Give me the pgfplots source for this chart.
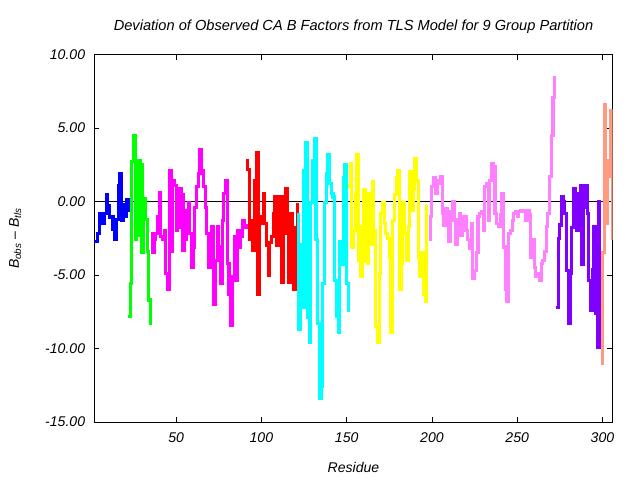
\documentclass[border=0pt]{standalone}
\usepackage{fontspec}
\setmainfont{Liberation Sans}
\usepackage{pgfplots}
\pgfplotsset{compat=1.18}
\definecolor{gBlue}{HTML}{0000FF}
\definecolor{gGreen}{HTML}{00FF00}
\definecolor{gMagenta}{HTML}{FF00FF}
\definecolor{gRed}{HTML}{FF0000}
\definecolor{gCyan}{HTML}{00FFFF}
\definecolor{gYellow}{HTML}{FFFF00}
\definecolor{gPink}{HTML}{FF80FF}
\definecolor{gPurple}{HTML}{8000FF}
\definecolor{gSalmon}{HTML}{FF9A80}
\begin{document}
\begin{tikzpicture}
\useasboundingbox (-2.357cm,-1.45cm) rectangle (13.643cm,10.55cm);
\begin{axis}[
    at={(0,0)}, anchor=south west,
    scale only axis,
    width=12.96cm, height=9.19cm,
    xmin=2, xmax=306, ymin=-15, ymax=10,
    xtick={50,100,...,300},
    ytick={-15,-10,...,10},
    tick align=inside,
    major tick length=0.13cm,
    tick style={black, line width=0.5pt},
    axis line style={black, line width=0.6pt},
    /pgf/number format/assume math mode=true,
    every tick label/.append style={font=\itshape\fontsize{10}{12}\selectfont},
    yticklabel style={xshift=-3pt, /pgf/number format/fixed, /pgf/number format/fixed zerofill, /pgf/number format/precision=2},
    xticklabel style={yshift=-4pt, /pgf/number format/fixed, /pgf/number format/precision=0},
    title={Deviation of Observed CA B Factors from TLS Model for 9 Group Partition},
    title style={at={(0.5,1.053)}, anchor=center, font=\itshape\fontsize{10.4}{12}\selectfont},
    xlabel={Residue},
    xlabel style={at={(0.5,-0.1224)}, anchor=center, font=\itshape\fontsize{10}{12}\selectfont},
    ylabel={B\textsubscript{obs} -- B\textsubscript{tls}},
    ylabel style={at={(-0.1524,0.5)}, anchor=center, font=\itshape\fontsize{10}{12}\selectfont},
    every axis plot/.append style={const plot, line width=2.2pt, line join=miter},
]
\addplot[black, sharp plot, line width=0.6pt] coordinates {(2,0) (306,0)};
% blue group
\addplot[gBlue] coordinates {
 (2,-2.7)(3,-2.7)(4,-2.2)(5,-0.8)(6,-1.3)(7,-1.5)(8,-0.8)(9,0.5)(10,-0.3)(11,-1.1)
 (12,-1.0)(13,-1.9)(14,-2.6)(15,-1.2)(16,1.1)(17,1.9)(18,-1.3)(19,-0.2)(20,-1.0)(21,0.1)(22,-0.7)
};
% green group
\addplot[gGreen] coordinates {
 (22,-7.8)(23,-5.6)(24,2.7)(25,4.5)(26,-2.6)(27,-2.3)(28,2.8)(29,2.5)(30,-3.5)(31,0.2)
 (32,-1.2)(33,-3.4)(34,-6.7)(35,-8.4)
};
% magenta group
\addplot[gMagenta] coordinates {
 (35,-2.2)(36,-3.5)(37,-2.6)(38,-2.2)(39,-1.0)(40,0.6)(41,-2.4)(42,-2.6)(43,-2.0)(44,-4.9)
 (45,-6.0)(46,2.1)(47,-3.4)(48,1.45)(49,1.1)(50,-2.0)(51,-1.8)(52,0.9)(53,0.5)(54,-3.3)
 (55,-2.6)(56,-0.6)(57,-0.1)(58,-2.2)(59,-4.5)(60,-3.1)(61,-0.4)(62,1.0)(63,1.9)(64,3.5)
 (65,2.1)(66,1.0)(67,-0.4)(68,-2.2)(69,-4.5)(70,-2.7)(71,-1.7)(72,-7.0)(73,-4.0)(74,-1.7)
 (75,-3.1)(76,-5.6)(77,-1.3)(78,0.55)(79,1.45)(80,-4.2)(81,-6.3)(82,-8.4)(83,-5.1)(84,-2.4)
 (85,-5.4)(86,-2.0)(87,-3.1)(88,-2.4)(89,-1.3)(90,-1.8)(91,-1.5)
};
% red group
\addplot[gRed] coordinates {
 (91,2.8)(92,2.2)(93,-2.6)(94,-1.3)(95,-3.3)(96,1.45)(97,3.3)(98,-6.3)(99,-1.0)(100,-1.5)
 (101,0.55)(102,-1.5)(103,-3.0)(104,-5.0)(105,-2.8)(106,-2.4)(107,-0.8)(108,0.3)(109,-3.0)(110,0.3)
 (111,-1.5)(112,-5.5)(113,0.3)(114,0.9)(115,-2.2)(116,-5.5)(117,-0.8)(118,-2.0)(119,-6.0)(120,-1.8)
 (121,-0.1)
};
% cyan group
\addplot[gCyan] coordinates {
 (121,-0.9)(122,-8.7)(123,-2.9)(124,-7.2)(125,2.1)(126,4.0)(127,-7.9)(128,-9.6)(129,-0.1)(130,2.8)
 (131,4.3)(132,-2.6)(133,-8.3)(134,-13.4)(135,-12.6)(136,-5.6)(137,-0.1)(138,1.9)(139,3.2)(140,1.2)
 (141,0.55)(142,0.3)(143,-5.4)(144,-7.8)(145,-8.9)(146,-2.75)(147,-4.3)(148,1.6)(149,2.5)(150,-5.6)
 (151,-7.5)
};
% yellow group
\addplot[gYellow] coordinates {
 (151,1.0)(152,2.6)(153,-3.1)(154,-2.0)(155,0.5)(156,3.2)(157,-4.0)(158,-5.1)(159,-1.7)(160,0.8)
 (161,-4.1)(162,-4.2)(163,0.55)(164,-2.9)(165,1.35)(166,-2.0)(167,-8.5)(168,-9.6)(169,-4.9)(170,-0.8)
 (171,-0.1)(172,-1.5)(173,-2.2)(174,-2.5)(175,-3.8)(176,-8.9)(177,-1.3)(178,0.5)(179,1.6)(180,2.1)
 (181,-6.0)(182,-4.2)(183,-0.1)(184,-2.2)(185,-4.0)(186,-1.7)(187,2.0)(188,-0.6)(189,0.8)(190,2.9)
 (191,1.45)(192,-3.8)(193,-5.1)(194,-3.5)(195,-6.3)(196,-6.8)(197,-0.25)
};
% pink group
\addplot[gPink] coordinates {
 (198,-2.6)(199,-1.0)(200,1.0)(201,1.6)(202,0.55)(203,1.45)(204,1.2)(205,1.7)(206,-0.8)(207,-1.6)
 (208,-0.5)(209,-0.7)(210,-2.75)(211,-1.3)(212,0.0)(213,-1.3)(214,-2.9)(215,-1.2)(216,-0.8)(217,-2.3)
 (218,-1.0)(219,-1.0)(220,-2.0)(221,-2.6)(222,-3.2)(223,-1.5)(224,-5.25)(225,-4.7)(226,-3.5)(227,-1.0)
 (228,-0.8)(229,-0.7)(230,-2.0)(231,1.0)(232,1.2)(233,-1.3)(234,1.45)(235,2.6)(236,2.35)(237,-0.8)
 (238,-1.5)(239,-1.7)(240,-0.9)(241,0.55)(242,-3.1)(243,-6.0)(244,-6.8)(245,-2.2)(246,-2.0)(247,-1.3)
 (248,-0.8)(249,-0.7)(250,-1.0)(251,-0.7)(252,-0.6)(253,-0.6)(254,-0.7)(255,-1.3)(256,-0.6)(257,-0.9)
 (258,-3.8)(259,-2.6)(260,-4.5)(261,-5.1)(262,-4.9)(263,-5.4)(264,-4.2)(265,-4.0)(266,-3.4)(267,-1.7)
 (268,-0.8)(269,1.7)(270,4.5)(271,7.1)(272,8.5)
};
% purple group
\addplot[gPurple] coordinates {
 (273,-7.2)(274,-2.5)(275,-1.6)(276,0.3)(277,0.0)(278,-0.8)(279,-4.7)(280,-8.3)(281,-4.9)(282,-1.8)
 (283,0.9)(284,0.3)(285,-2.0)(286,0.55)(287,1.1)(288,-4.3)(289,-0.4)(290,1.1)(291,-0.8)(292,-5.4)
 (293,-7.4)(294,-4.6)(295,-1.7)(296,-7.6)(297,-9.9)(298,0.1)
};
% salmon group
\addplot[gSalmon] coordinates {
 (299,-11.0)(300,-3.5)(301,6.6)(302,-1.5)(303,2.8)(304,1.7)(305,6.2)(306,-2.6)
};
\end{axis}
\end{tikzpicture}
\end{document}
